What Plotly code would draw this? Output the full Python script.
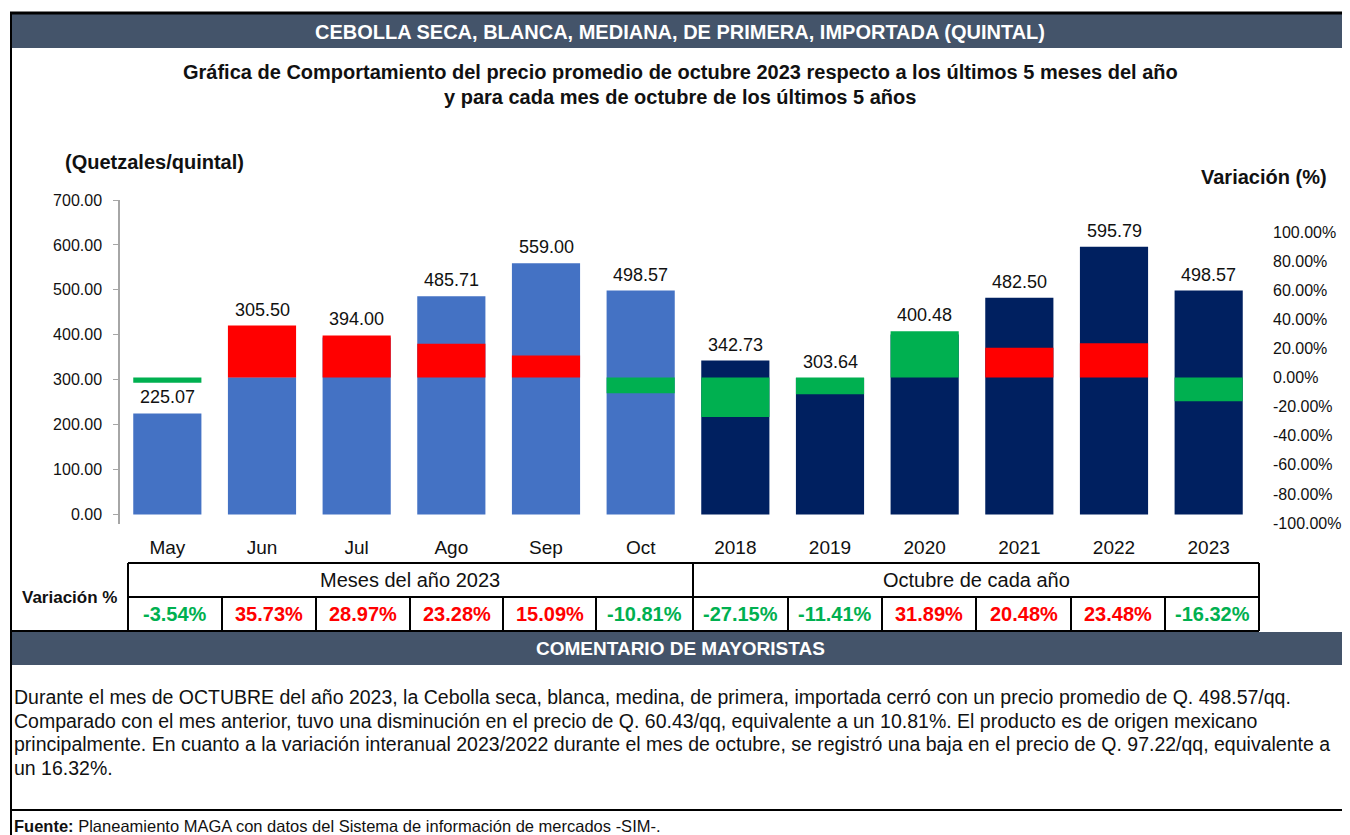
"""Cebolla seca - precio promedio y variación"""

import plotly.graph_objects as go

# la página deja 8 px de margen en el body: la figura se dibuja desplazada
OFF = 8
W, H = 1350 - OFF, 835 - OFF
FONT = "Liberation Sans, Arial, sans-serif"
SLATE = "#44546A"
GREEN = "#00B050"
RED = "#FF0000"

categorias = ["May", "Jun", "Jul", "Ago", "Sep", "Oct",
              "2018", "2019", "2020", "2021", "2022", "2023"]
precio = [225.07, 305.50, 394.00, 485.71, 559.00, 498.57,
          342.73, 303.64, 400.48, 482.50, 595.79, 498.57]
variacion = [-3.54, 35.73, 28.97, 23.28, 15.09, -10.81,
             -27.15, -11.41, 31.89, 20.48, 23.48, -16.32]
# colores tal como aparecen en la gráfica
color_precio = ["#4472C4"] * 6 + ["#002060"] * 6
color_var = [GREEN, RED, RED, RED, RED, GREEN,
             GREEN, GREEN, GREEN, RED, RED, GREEN]
ticks_precio = [0, 100, 200, 300, 400, 500, 600, 700]
ticks_var = [-100, -80, -60, -40, -20, 0, 20, 40, 60, 80, 100]

titulo = "CEBOLLA SECA, BLANCA, MEDIANA, DE PRIMERA, IMPORTADA (QUINTAL)"
subtitulo = ["Gráfica de Comportamiento del precio promedio de octubre 2023 respecto a los últimos 5 meses del año",
             "y para cada mes de octubre de los últimos 5 años"]
comentario = [
    "Durante el mes de OCTUBRE del año 2023, la Cebolla seca, blanca, medina, de primera, importada cerró con un precio promedio de Q. 498.57/qq.",
    "Comparado con el mes anterior, tuvo una disminución en el precio de Q. 60.43/qq, equivalente a un 10.81%. El producto es de origen mexicano",
    "principalmente. En cuanto a la variación interanual 2023/2022 durante el mes de octubre, se registró una baja en el precio de Q. 97.22/qq, equivalente a",
    "un 16.32%.",
]

Y1 = [-20, 700]
Y2 = [-100.3, 122]


def px(x):
    return (x - OFF) / W


def py(y):
    return 1 - (y - OFF) / H


def y2_a_y1(v):
    f = (v - Y2[0]) / (Y2[1] - Y2[0])
    return Y1[0] + f * (Y1[1] - Y1[0])


fig = go.Figure()
fig.add_trace(go.Bar(
    x=categorias, y=precio, marker_color=color_precio,
    marker_line_width=0,
    width=0.72, yaxis="y", showlegend=False, hoverinfo="x+y",
))
fig.add_trace(go.Bar(
    x=categorias, y=variacion, marker_color=color_var,
    marker_line_width=0, width=0.72, yaxis="y2",
    showlegend=False, hoverinfo="x+y",
))

ann = []
# etiquetas de precio (x como índice de categoría)
for i, (p, v) in enumerate(zip(precio, variacion)):
    yy = max(p, y2_a_y1(v)) if v > 0 else p
    ann.append(dict(x=i, y=yy, xref="x", yref="y", text=f"{p:.2f}", showarrow=False,
                    yanchor="bottom", yshift=4, font=dict(size=18, color="#111")))


def texto(x, y, t, size=16, color="#111", bold=False, xanchor="center"):
    if bold:
        t = f"<b>{t}</b>"
    ann.append(dict(x=px(x), y=py(y), xref="paper", yref="paper", text=t, showarrow=False,
                    xanchor=xanchor, yanchor="middle", font=dict(size=size, color=color)))


texto(680, 32, titulo, 20, "white", True)
texto(680, 72, subtitulo[0], 20, bold=True)
texto(680, 97, subtitulo[1], 20, bold=True)
texto(63, 162, "(Quetzales/quintal)", 20, bold=True, xanchor="left")
texto(1199, 177, "Variación (%)", 20, bold=True, xanchor="left")

# tabla de variaciones
texto(69, 597, "Variación %", 17, bold=True)
texto(410, 580, "Meses del año 2023", 20)
texto(976, 580, "Octubre de cada año", 20)
bordes = [128, 222, 316, 410, 503, 596, 693, 788, 882, 976, 1071, 1165, 1259]
for i, v in enumerate(variacion):
    cx = (bordes[i] + bordes[i + 1]) / 2
    texto(cx, 614, f"{v:.2f}%", 20, GREEN if v < 0 else RED, True)

texto(680, 648, "COMENTARIO DE MAYORISTAS", 19, "white", True)
for i, linea in enumerate(comentario):
    texto(12, 697 + i * 23.5, linea, 19.5, xanchor="left")
texto(12, 826, "<b>Fuente:</b> Planeamiento MAGA con datos del Sistema de información de mercados -SIM-.",
      16.5, xanchor="left")

shapes = []


def rect(x0, y0, x1, y1, color):
    shapes.append(dict(type="rect", xref="paper", yref="paper", x0=px(x0), x1=px(x1),
                       y0=py(y1), y1=py(y0), fillcolor=color, line_width=0, layer="below"))


def linea(x0, y0, x1, y1, w=2, color="black"):
    shapes.append(dict(type="line", xref="paper", yref="paper", x0=px(x0), x1=px(x1),
                       y0=py(y0), y1=py(y1), line=dict(color=color, width=w)))


rect(10, 14, 1350, 48, SLATE)
rect(10, 632, 1350, 665, SLATE)
linea(10, 13, 1350, 13, 3)
linea(11, 12, 11, 835, 2)
linea(128, 563, 1259, 563)
linea(128, 597, 1259, 597)
linea(10, 631, 1259, 631)
for x in [128, 693, 1259]:
    linea(x, 563, x, 631)
for x in bordes[1:-1]:
    if x != 693:
        linea(x, 597, x, 631)
linea(10, 810, 1350, 810, 2)

fig.update_layout(
    width=W, height=H,
    margin=dict(l=0, r=0, t=0, b=0, autoexpand=False),
    paper_bgcolor="white", plot_bgcolor="white",
    font=dict(family=FONT, color="#111"),
    barmode="overlay",
    xaxis=dict(domain=[px(120), px(1256)], type="category", range=[-0.5, 11.5],
               showgrid=False, showline=False, ticks="", automargin=False,
               tickfont=dict(size=19, color="#111"), ticklabelstandoff=10),
    yaxis=dict(domain=[py(523.5), py(200)], range=Y1, tickvals=ticks_precio,
               tickformat=".2f", showgrid=False, zeroline=False, showline=True,
               linecolor="#A6A6A6", linewidth=1.5, ticks="outside", ticklen=5,
               tickcolor="#A6A6A6", tickfont=dict(size=16, color="#111"),
               ticklabelstandoff=8, automargin=False),
    yaxis2=dict(overlaying="y", side="right", anchor="x", range=Y2,
                tickvals=ticks_var, ticktext=[f"{v:.2f}%" for v in ticks_var],
                showgrid=False, zeroline=False, showline=False, ticks="",
                tickfont=dict(size=16, color="#111"), ticklabelstandoff=16,
                automargin=False),
    annotations=ann, shapes=shapes,
)

fig.write_html("out.html")
